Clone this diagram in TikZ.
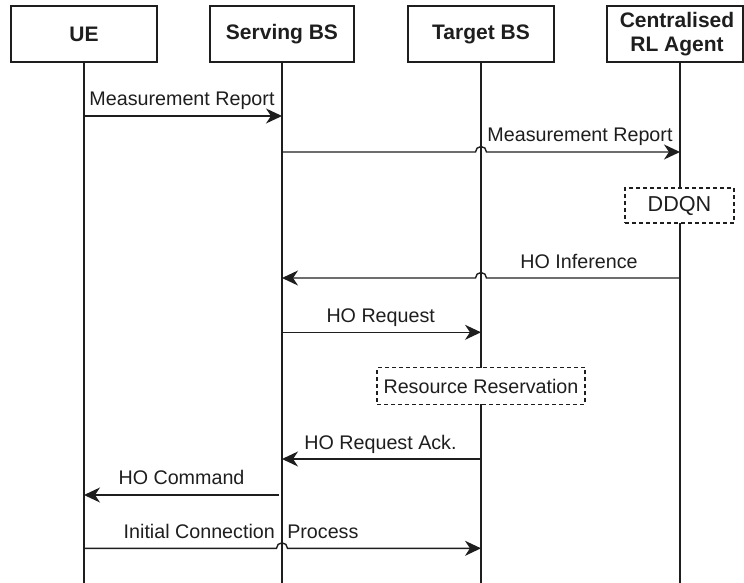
\documentclass[tikz,border=0pt]{standalone}
\usepackage{fontspec}
\setmainfont{Liberation Sans}
\usetikzlibrary{arrows.meta,calc}

\definecolor{ink}{HTML}{1E1E1E}

\begin{document}
\begin{tikzpicture}[x=1pt,y=-1pt,
  line/.style={draw=ink, line width=1.4pt},
  actor/.style={line, fill=white, text=ink, align=center, inner sep=0pt,
    minimum height=56pt, font=\fontsize{21}{24}\selectfont\bfseries},
  msg/.style={line, -{Stealth[length=16pt,width=15pt,inset=5pt]}},
  lbl/.style={text=ink, inner sep=0pt, anchor=base, font=\fontsize{19.7}{23}\selectfont},
  procbox/.style={draw=ink, line width=1.4pt, dash pattern=on 4pt off 3pt, fill=white,
    text=ink, inner sep=0pt, font=\fontsize{19.7}{23}\selectfont},
  jumpr/.store in=\jr, jumpr=5.5pt
]
\useasboundingbox (0,0) rectangle (744,583);
\clip (0,0) rectangle (744,583);

% participants
\node[actor, minimum width=146pt] (ue)  at (84,34)  {UE};
\node[actor, minimum width=144pt] (sbs) at (282,34) {Serving BS};
\node[actor, minimum width=146pt] (tbs) at (481,34) {Target BS};
\node[actor, minimum width=136pt] (agent) at (675,34) {\hspace*{4pt}Centralised\\\hspace*{4pt}RL Agent};
\coordinate (agtop) at (680,62);
\coordinate (bot) at (0,583);

% lifelines
\draw[line] (ue.south)  -- (ue.south |- bot);
\draw[line] (sbs.south) -- (sbs.south |- bot);
\draw[line] (tbs.south) -- (tbs.south |- bot);
\draw[line] (agtop) -- (agtop |- bot);

% local processing
\node[procbox, minimum width=109pt, minimum height=35pt,
  font=\fontsize{21.6}{25}\selectfont] (ddqn) at (679.5,205.5) {DDQN};
\node[procbox, minimum width=208pt, minimum height=36.5pt] (resv) at (481,386) {Resource Reservation};

% messages
\draw[msg] (ue |- 0,116) -- (sbs |- 0,116);
\node[lbl] (l1) at (182,105.5) {Measurement Report};

\draw[msg] (sbs |- 0,152) -- ($(tbs |- 0,152)+(-\jr,0)$)
  arc[start angle=180, end angle=0, radius=\jr] -- (agtop |- 0,152);
\node[lbl] (l2) at (580,142) {Measurement Report};

\draw[msg] (agtop |- 0,278) -- ($(tbs |- 0,278)+(\jr,0)$)
  arc[start angle=0, end angle=180, radius=\jr] -- (sbs |- 0,278);
\node[lbl] (l3) at (579,268) {HO Inference};

\draw[msg] (sbs |- 0,332.3) -- (tbs |- 0,332.3);
\node[lbl] (l4) at (380.7,322.5) {HO Request};

\draw[msg] (tbs |- 0,459) -- (sbs |- 0,459);
\node[lbl] (l5) at (380.5,449.3) {HO Request Ack.};

\draw[msg] ($(sbs |- 0,495)+(-3pt,0)$) -- (ue |- 0,495);
\node[lbl] (l6) at (181.5,484.6) {HO Command};

\draw[msg] (ue |- 0,548.3) -- ($(sbs |- 0,548.3)+(-\jr,0)$)
  arc[start angle=180, end angle=0, radius=\jr] -- (tbs |- 0,548.3);
\node[lbl, anchor=base west] (l7) at (123.5,538.6) {Initial Connection\hspace{7pt} Process};
\end{tikzpicture}
\end{document}
